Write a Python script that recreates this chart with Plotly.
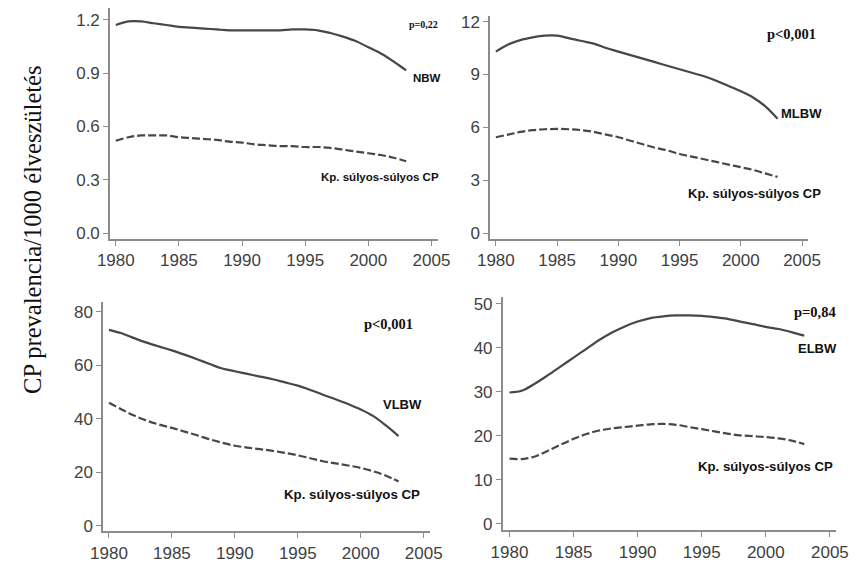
import plotly.graph_objects as go

W, H = 859, 563

years = list(range(1980, 2004))

nbw_total = [1.17, 1.19, 1.19, 1.18, 1.17, 1.16, 1.155, 1.15, 1.145, 1.14, 1.14, 1.14,
             1.14, 1.14, 1.145, 1.145, 1.14, 1.125, 1.105, 1.08, 1.045, 1.01, 0.965, 0.915]
nbw_severe = [0.52, 0.54, 0.55, 0.55, 0.55, 0.54, 0.535, 0.53, 0.525, 0.515, 0.51, 0.50,
              0.495, 0.49, 0.49, 0.485, 0.485, 0.48, 0.47, 0.46, 0.45, 0.44, 0.425, 0.405]

mlbw_total = [10.3, 10.7, 10.95, 11.1, 11.2, 11.2, 11.05, 10.9, 10.75, 10.5, 10.3, 10.1,
              9.9, 9.7, 9.5, 9.3, 9.1, 8.9, 8.65, 8.35, 8.05, 7.7, 7.2, 6.5]
mlbw_severe = [5.45, 5.6, 5.75, 5.85, 5.9, 5.92, 5.9, 5.85, 5.75, 5.6, 5.45, 5.25,
               5.05, 4.85, 4.7, 4.5, 4.35, 4.2, 4.05, 3.9, 3.75, 3.6, 3.4, 3.2]

vlbw_total = [73.3, 72.0, 70.2, 68.5, 67.0, 65.6, 64.0, 62.3, 60.5, 58.8, 57.8, 56.8,
              55.8, 54.8, 53.6, 52.4, 50.8, 49.0, 47.3, 45.5, 43.5, 41.0, 37.5, 33.5]
vlbw_severe = [46.0, 43.5, 41.2, 39.3, 37.8, 36.6, 35.2, 33.8, 32.3, 31.0, 29.9, 29.2,
               28.6, 28.0, 27.2, 26.3, 25.2, 24.1, 23.3, 22.5, 21.6, 20.3, 18.7, 16.5]

elbw_total = [29.85, 30.3, 31.9, 33.8, 35.8, 37.8, 39.8, 41.8, 43.5, 44.9, 46.0, 46.8,
              47.2, 47.4, 47.4, 47.3, 47.0, 46.6, 46.0, 45.4, 44.8, 44.3, 43.6, 42.8]
elbw_severe = [14.8, 14.7, 15.3, 16.6, 18.0, 19.3, 20.4, 21.2, 21.7, 22.0, 22.3, 22.6,
               22.7, 22.5, 22.0, 21.5, 21.0, 20.5, 20.1, 19.9, 19.7, 19.4, 18.9, 18.1]

group_labels = ["NBW", "MLBW", "VLBW", "ELBW"]
severe_label = "Kp. súlyos-súlyos CP"
p_values = ["p=0,22", "p<0,001", "p<0,001", "p=0,84"]
y_title = "CP prevalencia/1000 élveszületés"

x_ticks = [1980, 1985, 1990, 1995, 2000, 2005]
y_ticks = [
    ([0, 0.3, 0.6, 0.9, 1.2], ["0.0", "0.3", "0.6", "0.9", "1.2"]),
    ([0, 3, 6, 9, 12], ["0", "3", "6", "9", "12"]),
    ([0, 20, 40, 60, 80], ["0", "20", "40", "60", "80"]),
    ([0, 10, 20, 30, 40, 50], ["0", "10", "20", "30", "40", "50"]),
]

totals = [nbw_total, mlbw_total, vlbw_total, elbw_total]
severes = [nbw_severe, mlbw_severe, vlbw_severe, elbw_severe]

# panel geometry in pixels: (left, right, top, bottom), x range, y range
panels = [
    dict(px=(100, 438), py=(5, 241), xr=[1979.54, 2005.5], yr=[-0.033, 1.266]),
    dict(px=(492, 820), py=(13, 241), xr=[1979.53, 2005.5], yr=[-0.333, 12.33]),
    dict(px=(93, 430), py=(305, 539), xr=[1979.54, 2005.5], yr=[-2.2, 83.7]),
    dict(px=(505, 849), py=(300, 538), xr=[1979.47, 2005.5], yr=[-1.56, 51.56]),
]

def px2x(p):
    return p / W

def py2y(p):
    return 1 - p / H

line_color = "#474747"
axis_color = "#8c8c8c"
tick_font = dict(family="Liberation Sans Narrow, Arial Narrow, Liberation Sans, sans-serif",
                 size=17, color="#3f3f3f")

fig = go.Figure()
for i, pan in enumerate(panels):
    xa = "x" if i == 0 else f"x{i+1}"
    ya = "y" if i == 0 else f"y{i+1}"
    fig.add_trace(go.Scatter(x=years, y=totals[i], mode="lines", xaxis=xa, yaxis=ya,
                             line=dict(color=line_color, width=2.2), showlegend=False,
                             line_shape="spline"))
    fig.add_trace(go.Scatter(x=years, y=severes[i], mode="lines", xaxis=xa, yaxis=ya,
                             line=dict(color=line_color, width=2.2, dash="8px,3px"),
                             showlegend=False, line_shape="spline"))
    sfx = "" if i == 0 else str(i + 1)
    common = dict(showline=True, linecolor=axis_color, linewidth=1.5, ticks="outside",
                  ticklen=5, tickcolor=axis_color, tickwidth=1.3, showgrid=False,
                  zeroline=False, tickfont=tick_font)
    fig.layout["xaxis" + sfx] = dict(domain=[px2x(pan["px"][0]), px2x(pan["px"][1])],
                                     range=pan["xr"], tickvals=x_ticks,
                                     anchor=ya, **common)
    fig.layout["yaxis" + sfx] = dict(domain=[py2y(pan["py"][1]), py2y(pan["py"][0])],
                                     range=pan["yr"], tickvals=y_ticks[i][0],
                                     ticktext=y_ticks[i][1], anchor=xa, **common)

label_font = lambda s: dict(family="Liberation Sans, Arial, sans-serif", size=s,
                            color="#111111")
p_font = lambda s: dict(family="Liberation Serif, Times New Roman, serif", size=s,
                        color="#111111")

# (group label pos, severe label right-end pos, p-value pos, sizes)
ann_pos = [
    dict(g=(427, 77), s=(441, 177), p=(423, 22), gs=11.5, ss=11.5, ps=10),
    dict(g=(813, 113), s=(835, 194), p=(803, 32), gs=13, ss=13, ps=14.5),
    dict(g=(402, 410), s=(422, 501), p=(387, 327), gs=13, ss=13.3, ps=14.5),
    dict(g=(830, 352), s=(848, 473), p=(827, 315), gs=13, ss=13.2, ps=14.5),
]

for i, a in enumerate(ann_pos):
    fig.add_annotation(x=px2x(a["g"][0]), y=py2y(a["g"][1]), xref="paper", yref="paper",
                       text=f"<b>{group_labels[i]}</b>", showarrow=False,
                       xanchor="center", yanchor="middle", font=label_font(a["gs"]))
    fig.add_annotation(x=px2x(a["s"][0]), y=py2y(a["s"][1]), xref="paper", yref="paper",
                       text=f"<b>{severe_label}</b>", showarrow=False,
                       xanchor="right", yanchor="middle", font=label_font(a["ss"]))
    fig.add_annotation(x=px2x(a["p"][0]), y=py2y(a["p"][1]), xref="paper", yref="paper",
                       text=f"<b>{p_values[i]}</b>", showarrow=False,
                       xanchor="center", yanchor="middle", font=p_font(a["ps"]))

fig.add_annotation(x=px2x(20), y=py2y(231), xref="paper", yref="paper",
                   text=y_title, showarrow=False, textangle=-90,
                   xanchor="center", yanchor="middle",
                   font=dict(family="Liberation Serif, Times New Roman, serif", size=24.5,
                             color="#111111"))

fig.update_layout(width=W, height=H, margin=dict(l=0, r=0, t=0, b=0),
                  paper_bgcolor="white", plot_bgcolor="white")

fig.write_html("out.html", config={"displayModeBar": False},
               post_script="document.body.style.margin='0';document.body.style.overflow='hidden';")
